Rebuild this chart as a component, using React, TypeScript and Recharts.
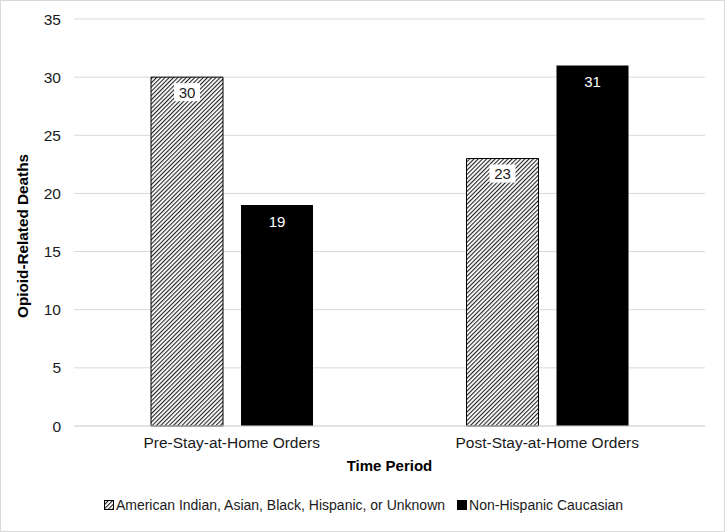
import { Bar, BarChart, CartesianGrid, Label, LabelList, XAxis, YAxis } from 'recharts';

const periods = ['Pre-Stay-at-Home Orders', 'Post-Stay-at-Home Orders'];
const minorityDeaths = [30, 23];
const caucasianDeaths = [19, 31];
const yTicks = [0, 5, 10, 15, 20, 25, 30, 35];

const seriesNames = ['American Indian, Asian, Black, Hispanic, or Unknown', 'Non-Hispanic Caucasian'];

const data = periods.map((period, i) => ({
  period,
  minority: minorityDeaths[i],
  caucasian: caucasianDeaths[i],
}));

const FONT = '"Liberation Sans", Arial, sans-serif';
const TEXT = '#1a1a1a';

// value box with white background, used on the hatched bars
const BoxLabel = (props: any) => {
  const { x, y, width, value } = props;
  const cx = x + width / 2;
  const cy = y + 15;
  return (
    <g>
      <rect x={cx - 13} y={cy - 9} width={26} height={18} fill="#fff" />
      <text x={cx} y={cy} textAnchor="middle" dominantBaseline="central" fontSize={15} fill={TEXT} fontFamily={FONT}>
        {value}
      </text>
    </g>
  );
};

const WhiteLabel = (props: any) => {
  const { x, y, width, value } = props;
  return (
    <text x={x + width / 2} y={y + 16} textAnchor="middle" dominantBaseline="central" fontSize={15} fill="#fff" fontFamily={FONT}>
      {value}
    </text>
  );
};

const App = () => {
  return (
    <div
      style={{
        position: 'absolute',
        left: 0,
        top: 0,
        width: 725,
        height: 532,
        boxSizing: 'border-box',
        border: '1px solid #d9d9d9',
        background: '#fff',
        fontFamily: FONT,
      }}
    >
      <div style={{ position: 'absolute', left: -1, top: -1 }}>
        <BarChart
          width={725}
          height={532}
          data={data}
          margin={{ top: 19, right: 20, left: 0, bottom: 0 }}
          barGap={18}
          barCategoryGap={77}
        >
          <defs>
            <pattern id="hatch" patternUnits="userSpaceOnUse" width={3} height={3} patternTransform="rotate(45)">
              <rect x={0} y={0} width={3} height={3} fill="#fff" />
              <rect x={0} y={0} width={1.1} height={3} fill="#222" />
            </pattern>
          </defs>
          <CartesianGrid vertical={false} stroke="#d9d9d9" />
          <XAxis
            dataKey="period"
            height={106}
            axisLine={{ stroke: '#d9d9d9' }}
            tickLine={false}
            tickSize={0}
            tickMargin={11}
            tick={{ fill: TEXT, fontSize: 15.5, fontFamily: FONT }}
          >
            <Label
              value="Time Period"
              position="insideTop"
              offset={34}
              style={{ fontWeight: 'bold', fontSize: 15, fill: '#000', fontFamily: FONT }}
            />
          </XAxis>
          <YAxis
            width={74}
            domain={[0, 35]}
            ticks={yTicks}
            axisLine={false}
            tickLine={false}
            tickSize={0}
            tickMargin={13}
            tick={{ fill: TEXT, fontSize: 15.5, fontFamily: FONT }}
          >
            <Label
              content={() => (
                <text
                  x={22}
                  y={236}
                  transform="rotate(-90 22 236)"
                  textAnchor="middle"
                  dominantBaseline="central"
                  fontSize={15.3}
                  fontWeight="bold"
                  fill="#000"
                  fontFamily={FONT}
                >
                  Opioid-Related Deaths
                </text>
              )}
            />
          </YAxis>
          <Bar dataKey="minority" name={seriesNames[0]} fill="url(#hatch)" stroke="#000" strokeWidth={1} isAnimationActive={false}>
            <LabelList dataKey="minority" content={BoxLabel} />
          </Bar>
          <Bar dataKey="caucasian" name={seriesNames[1]} fill="#000" isAnimationActive={false}>
            <LabelList dataKey="caucasian" content={WhiteLabel} />
          </Bar>
        </BarChart>
      </div>
      <div
        style={{
          position: 'absolute',
          left: 0,
          width: 725,
          top: 496,
          display: 'flex',
          justifyContent: 'center',
          alignItems: 'center',
          fontSize: 14,
          color: TEXT,
          whiteSpace: 'nowrap',
        }}
      >
        <svg width={10} height={10} style={{ marginRight: 2 }}>
          <rect x={0.5} y={0.5} width={9} height={9} fill="url(#hatch)" stroke="#000" />
        </svg>
        <span style={{ marginRight: 12 }}>{seriesNames[0]}</span>
        <svg width={10} height={10} style={{ marginRight: 2 }}>
          <rect x={0} y={0} width={10} height={10} fill="#000" />
        </svg>
        <span>{seriesNames[1]}</span>
      </div>
    </div>
  );
};

export default App;
